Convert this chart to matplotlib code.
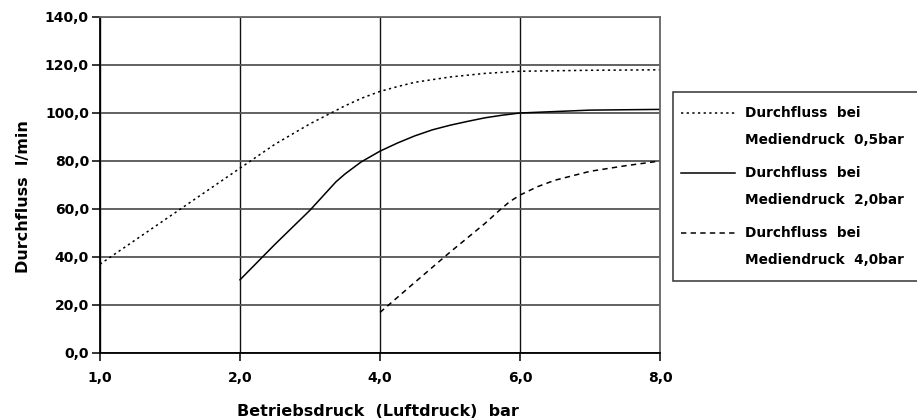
import numpy as np
import matplotlib
matplotlib.use("Agg")
import matplotlib.pyplot as plt
from matplotlib.lines import Line2D
from matplotlib.patches import Rectangle
from matplotlib.ticker import FuncFormatter

# Betriebsdruck (bar) -> Durchfluss (l/min)
druck_05 = [1.0, 1.5, 2.0, 2.5, 3.0, 3.5, 3.75, 4.0, 4.25, 4.5, 5.0, 5.5, 6.0, 7.0, 8.0]
fluss_05 = [37.0, 57.0, 77.0, 87.0, 95.5, 103.0, 106.3, 109.0, 111.0, 112.8, 115.0, 116.5,
            117.4, 117.8, 118.0]

druck_20 = [2.0, 2.5, 3.0, 3.37, 3.5, 3.73, 4.0, 4.25, 4.5, 4.75, 5.0, 5.25, 5.5, 5.75,
            6.0, 7.0, 8.0]
fluss_20 = [30.5, 45.3, 59.5, 71.3, 74.6, 79.6, 84.1, 87.5, 90.5, 93.0, 94.9, 96.5, 98.0,
            99.1, 100.0, 101.2, 101.5]

druck_40 = [4.0, 4.5, 5.0, 5.5, 5.72, 5.85, 6.0, 6.25, 6.5, 7.0, 7.5, 8.0]
fluss_40 = [16.9, 29.5, 42.0, 54.0, 59.8, 63.0, 65.8, 69.3, 72.0, 75.7, 78.0, 80.0]

x_ticks = [1.0, 2.0, 4.0, 6.0, 8.0]
y_ticks = [0, 20, 40, 60, 80, 100, 120, 140]

legend_labels = ["Durchfluss  bei\nMediendruck  0,5bar",
                 "Durchfluss  bei\nMediendruck  2,0bar",
                 "Durchfluss  bei\nMediendruck  4,0bar"]

styles = [(0, (1.5, 2.2)), "-", (0, (3.5, 2.8))]

W, H = 917, 420
plt.rcParams["font.family"] = "DejaVu Sans"
plt.rcParams["font.weight"] = "bold"

fig = plt.figure(figsize=(W / 100, H / 100), dpi=100)


def fx(px):
    return px / W


def fy(py):
    return 1 - py / H


ax = fig.add_axes([fx(100), fy(353), fx(660) - fx(100), fy(17) - fy(353)])

# the x axis in the original is evenly spaced by category, not linear
knots = np.arange(len(x_ticks))


def fwd(x):
    return np.interp(x, x_ticks, knots)


def inv(u):
    return np.interp(u, knots, x_ticks)


ax.set_xscale("function", functions=(fwd, inv))

ax.plot(druck_05, fluss_05, color="black", lw=1.1, linestyle=styles[0])
ax.plot(druck_20, fluss_20, color="black", lw=1.1, linestyle=styles[1])
ax.plot(druck_40, fluss_40, color="black", lw=1.1, linestyle=styles[2])

ax.set_xlim(1, 8)
ax.set_ylim(0, 140)
ax.set_xticks(x_ticks)
ax.set_yticks(y_ticks)
ax.xaxis.set_minor_locator(plt.NullLocator())
fmt = FuncFormatter(lambda v, p: f"{v:.1f}".replace(".", ","))
ax.xaxis.set_major_formatter(fmt)
ax.yaxis.set_major_formatter(fmt)
ax.tick_params(axis="both", length=6, width=1.1, color="black", labelsize=10)
ax.tick_params(axis="x", pad=7)
ax.tick_params(axis="y", pad=2)

ax.grid(axis="y", color="#555555", lw=1.3)
ax.grid(axis="x", color="#111111", lw=1.0)
ax.set_axisbelow(True)
for side in ["left", "bottom"]:
    ax.spines[side].set_color("black")
    ax.spines[side].set_linewidth(1.3)
for side in ["top", "right"]:
    ax.spines[side].set_color("#666666")
    ax.spines[side].set_linewidth(1.3)

fig.text(fx(378), fy(412), "Betriebsdruck  (Luftdruck)  bar", ha="center", va="center",
         fontsize=11.5, fontweight="bold")
fig.text(fx(24), fy(197), "Durchfluss  l/min", ha="center", va="center", rotation=90,
         fontsize=11.5, fontweight="bold")

# legend box, cut off by the right edge as in the original
fig.patches.append(Rectangle((fx(673), fy(281)), fx(940) - fx(673), fy(92) - fy(281),
                             transform=fig.transFigure, facecolor="white",
                             edgecolor="#333333", lw=1.1))
for i, (lab, ls) in enumerate(zip(legend_labels, styles)):
    y1 = 113 + 60 * i
    fig.lines.append(Line2D([fx(681), fx(735)], [fy(y1), fy(y1)], transform=fig.transFigure,
                            color="black", lw=1.1, linestyle=ls))
    top, bottom = lab.split("\n")
    fig.text(fx(745), fy(y1), top, ha="left", va="center", fontsize=9.8, fontweight="bold")
    fig.text(fx(745), fy(y1 + 27), bottom, ha="left", va="center", fontsize=9.8,
             fontweight="bold")

fig.savefig("out.png", dpi=100)
